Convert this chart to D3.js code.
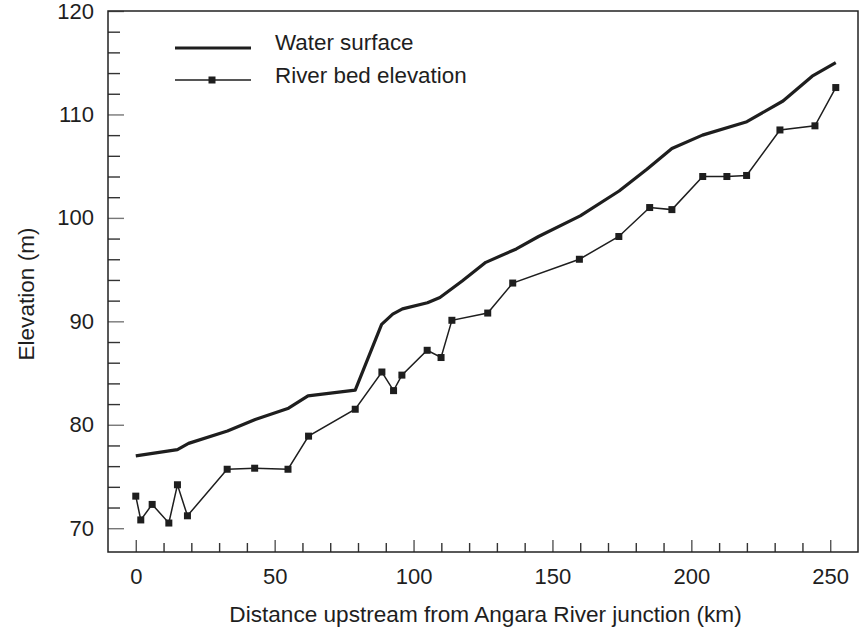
<!DOCTYPE html>
<html>
<head>
<meta charset="utf-8">
<script src="https://cdn.jsdelivr.net/npm/d3@7"></script>
<style>
  html, body { margin: 0; padding: 0; background: #fff; }
  svg { display: block; font-family: "Liberation Sans", Arial, Helvetica, sans-serif; }
</style>
</head>
<body>
<svg id="chart" width="859" height="634"></svg>
<script>
// Longitudinal profile: distance upstream (km) vs elevation (m)
const waterKm = [0, 15, 19, 33, 43, 55, 62, 79, 88.5, 92.5, 96, 105, 109.5, 117.5, 126, 137, 145, 160, 174, 184, 193, 204, 220, 233, 243.5, 252];
const waterElev = [77.0, 77.6, 78.2, 79.4, 80.5, 81.6, 82.8, 83.35, 89.7, 90.7, 91.2, 91.8, 92.3, 93.9, 95.7, 97.0, 98.2, 100.2, 102.6, 104.7, 106.7, 108.0, 109.3, 111.3, 113.7, 115.0];

const bedKm = [0, 1.8, 5.9, 11.9, 15, 18.6, 32.9, 42.8, 54.8, 62.2, 79, 88.6, 92.8, 95.8, 104.9, 109.9, 113.8, 126.7, 135.7, 159.7, 173.9, 185, 193, 204.1, 212.8, 219.9, 231.9, 244.5, 252];
const bedElev = [73.1, 70.8, 72.3, 70.5, 74.2, 71.2, 75.7, 75.8, 75.7, 78.9, 81.5, 85.1, 83.3, 84.8, 87.2, 86.5, 90.1, 90.8, 93.7, 96.0, 98.2, 101.0, 100.8, 104.0, 104.0, 104.1, 108.5, 108.9, 112.6];

const xMajorTicks = [0, 50, 100, 150, 200, 250];
const xMinorTicks = d3.range(0, 251, 10).filter(v => v % 50 !== 0);
const yMajorTicks = [70, 80, 90, 100, 110, 120];
const yMinorTicks = d3.range(70, 119, 2).filter(v => v % 10 !== 0);

const seriesNames = ["Water surface", "River bed elevation"];
const xTitle = "Distance upstream from Angara River junction (km)";
const yTitle = "Elevation (m)";

const svg = d3.select("#chart");
const ink = "#1e1e1e";
const plotL = 108, plotR = 858, plotT = 11, plotB = 552;

const x = d3.scaleLinear().domain([-10, 260]).range([plotL, plotR]);
const y = d3.scaleLinear().domain([67.7, 120]).range([plotB, plotT]);

// Minor ticks (no labels)
svg.append("g")
  .attr("transform", `translate(${plotL},0)`)
  .call(d3.axisLeft(y).tickValues(yMinorTicks).tickSize(-12).tickFormat(""))
  .call(g => g.select(".domain").remove())
  .call(g => g.selectAll("line").attr("stroke", "#333").attr("stroke-width", 1.4));

svg.append("g")
  .attr("transform", `translate(0,${plotB})`)
  .call(d3.axisBottom(x).tickValues(xMinorTicks).tickSize(-9).tickFormat(""))
  .call(g => g.select(".domain").remove())
  .call(g => g.selectAll("line").attr("stroke", "#333").attr("stroke-width", 1.4));

// Major ticks with labels
svg.append("g")
  .attr("transform", `translate(${plotL},0)`)
  .call(d3.axisLeft(y).tickValues(yMajorTicks).tickSize(-16).tickPadding(14).tickFormat(d3.format("d")))
  .call(g => g.select(".domain").remove())
  .call(g => g.selectAll("line").attr("stroke", "#777").attr("stroke-width", 1.4))
  .call(g => g.selectAll("text").attr("fill", ink).attr("font-size", 22).attr("font-family", null));

svg.append("g")
  .attr("transform", `translate(0,${plotB})`)
  .call(d3.axisBottom(x).tickValues(xMajorTicks).tickSize(-12).tickPadding(16).tickFormat(d3.format("d")))
  .call(g => g.select(".domain").remove())
  .call(g => g.selectAll("line").attr("stroke", "#555").attr("stroke-width", 1.4))
  .call(g => g.selectAll("text").attr("fill", ink).attr("font-size", 22).attr("font-family", null));

// Frame
svg.append("rect")
  .attr("x", plotL).attr("y", plotT)
  .attr("width", plotR - plotL).attr("height", plotB - plotT)
  .attr("fill", "none").attr("stroke", "#222").attr("stroke-width", 1.5);

// Water surface
const water = waterKm.map((k, i) => [k, waterElev[i]]);
const bed = bedKm.map((k, i) => [k, bedElev[i]]);
const line = d3.line().x(d => x(d[0])).y(d => y(d[1]));

svg.append("path")
  .attr("d", line(water))
  .attr("fill", "none").attr("stroke", ink)
  .attr("stroke-width", 3.2).attr("stroke-linejoin", "round");

// River bed with square markers
svg.append("path")
  .attr("d", line(bed))
  .attr("fill", "none").attr("stroke", ink)
  .attr("stroke-width", 1.5);

const m = 7;
svg.append("g").selectAll("rect")
  .data(bed)
  .join("rect")
  .attr("x", d => x(d[0]) - m / 2)
  .attr("y", d => y(d[1]) - m / 2)
  .attr("width", m).attr("height", m)
  .attr("fill", ink);

// Legend
const lg = svg.append("g");
lg.append("line").attr("x1", 175).attr("x2", 251).attr("y1", 48).attr("y2", 48)
  .attr("stroke", ink).attr("stroke-width", 3.2);
lg.append("text").attr("x", 275).attr("y", 50).attr("font-size", 22.4).attr("fill", ink).text(seriesNames[0]);
lg.append("line").attr("x1", 175).attr("x2", 251).attr("y1", 80).attr("y2", 80)
  .attr("stroke", ink).attr("stroke-width", 1.5);
lg.append("rect").attr("x", 212 - m / 2).attr("y", 80 - m / 2).attr("width", m).attr("height", m).attr("fill", ink);
lg.append("text").attr("x", 275).attr("y", 83).attr("font-size", 22.4).attr("fill", ink).text(seriesNames[1]);

// Axis titles
svg.append("text")
  .attr("x", 485.5).attr("y", 622)
  .attr("text-anchor", "middle").attr("font-size", 22.6).attr("fill", ink)
  .text(xTitle);

svg.append("text")
  .attr("transform", "translate(34,294) rotate(-90)")
  .attr("text-anchor", "middle").attr("font-size", 22.6).attr("fill", ink)
  .text(yTitle);
</script>
</body>
</html>
